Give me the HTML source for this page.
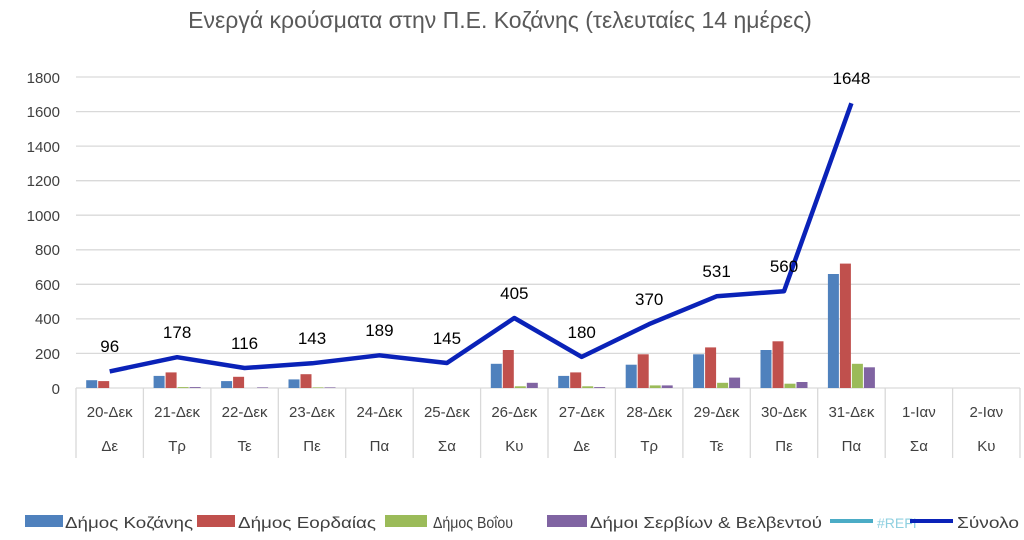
<!DOCTYPE html>
<html><head><meta charset="utf-8"><style>
html,body{margin:0;padding:0;background:#fff;width:1024px;height:540px;overflow:hidden}
svg text{font-family:"Liberation Sans","DejaVu Sans",sans-serif;fill:#404040}
</style></head><body>
<svg width="1024" height="540" xmlns="http://www.w3.org/2000/svg">
<text x="500" y="28" font-size="23" text-anchor="middle" style="fill:#595959">Ενεργά κρούσματα στην Π.Ε. Κοζάνης (τελευταίες 14 ημέρες)</text>
<g stroke="#d9d9d9" stroke-width="1.3">
<line x1="76" x2="1020" y1="77" y2="77"/><line x1="76" x2="1020" y1="111.6" y2="111.6"/>
<line x1="76" x2="1020" y1="146.1" y2="146.1"/><line x1="76" x2="1020" y1="180.7" y2="180.7"/>
<line x1="76" x2="1020" y1="215.2" y2="215.2"/><line x1="76" x2="1020" y1="249.8" y2="249.8"/>
<line x1="76" x2="1020" y1="284.3" y2="284.3"/><line x1="76" x2="1020" y1="318.9" y2="318.9"/>
<line x1="76" x2="1020" y1="353.4" y2="353.4"/><line x1="76" x2="1020" y1="388" y2="388"/>
<line x1="76" x2="76" y1="388" y2="458"/><line x1="143.4" x2="143.4" y1="388" y2="458"/>
<line x1="210.9" x2="210.9" y1="388" y2="458"/><line x1="278.3" x2="278.3" y1="388" y2="458"/>
<line x1="345.7" x2="345.7" y1="388" y2="458"/><line x1="413.2" x2="413.2" y1="388" y2="458"/>
<line x1="480.6" x2="480.6" y1="388" y2="458"/><line x1="548" x2="548" y1="388" y2="458"/>
<line x1="615.4" x2="615.4" y1="388" y2="458"/><line x1="682.9" x2="682.9" y1="388" y2="458"/>
<line x1="750.3" x2="750.3" y1="388" y2="458"/><line x1="817.7" x2="817.7" y1="388" y2="458"/>
<line x1="885.2" x2="885.2" y1="388" y2="458"/><line x1="952.6" x2="952.6" y1="388" y2="458"/>
<line x1="1020" x2="1020" y1="388" y2="458"/>
</g>
<g font-size="15" text-anchor="end">
<text x="60" y="83">1800</text><text x="60" y="117">1600</text><text x="60" y="152">1400</text>
<text x="60" y="186">1200</text><text x="60" y="221">1000</text><text x="60" y="255">800</text>
<text x="60" y="290">600</text><text x="60" y="324">400</text><text x="60" y="359">200</text>
<text x="60" y="394">0</text>
</g>
<g>
<rect x="86.2" y="380.2" width="11" height="7.8" fill="#4f81bd"/><rect x="98.2" y="381.1" width="11" height="6.9" fill="#c0504d"/>
<rect x="153.6" y="375.9" width="11" height="12.1" fill="#4f81bd"/><rect x="165.6" y="372.4" width="11" height="15.6" fill="#c0504d"/><rect x="177.6" y="387.1" width="11" height="0.9" fill="#9bbb59"/><rect x="189.6" y="387.1" width="11" height="0.9" fill="#8064a2"/>
<rect x="221.1" y="381.1" width="11" height="6.9" fill="#4f81bd"/><rect x="233.1" y="376.8" width="11" height="11.2" fill="#c0504d"/><rect x="257.1" y="387.4" width="11" height="0.6" fill="#8064a2"/>
<rect x="288.5" y="379.4" width="11" height="8.6" fill="#4f81bd"/><rect x="300.5" y="374.2" width="11" height="13.8" fill="#c0504d"/><rect x="312.5" y="387.4" width="11" height="0.6" fill="#9bbb59"/><rect x="324.5" y="387.4" width="11" height="0.6" fill="#8064a2"/>
<rect x="490.8" y="363.8" width="11" height="24.2" fill="#4f81bd"/><rect x="502.8" y="350" width="11" height="38" fill="#c0504d"/><rect x="514.8" y="386.3" width="11" height="1.7" fill="#9bbb59"/><rect x="526.8" y="382.8" width="11" height="5.2" fill="#8064a2"/>
<rect x="558.2" y="375.9" width="11" height="12.1" fill="#4f81bd"/><rect x="570.2" y="372.4" width="11" height="15.6" fill="#c0504d"/><rect x="582.2" y="386.3" width="11" height="1.7" fill="#9bbb59"/><rect x="594.2" y="387.1" width="11" height="0.9" fill="#8064a2"/>
<rect x="625.7" y="364.7" width="11" height="23.3" fill="#4f81bd"/><rect x="637.7" y="354.3" width="11" height="33.7" fill="#c0504d"/><rect x="649.7" y="385.4" width="11" height="2.6" fill="#9bbb59"/><rect x="661.7" y="385.4" width="11" height="2.6" fill="#8064a2"/>
<rect x="693.1" y="354.3" width="11" height="33.7" fill="#4f81bd"/><rect x="705.1" y="347.4" width="11" height="40.6" fill="#c0504d"/><rect x="717.1" y="382.8" width="11" height="5.2" fill="#9bbb59"/><rect x="729.1" y="377.6" width="11" height="10.4" fill="#8064a2"/>
<rect x="760.5" y="350" width="11" height="38" fill="#4f81bd"/><rect x="772.5" y="341.3" width="11" height="46.7" fill="#c0504d"/><rect x="784.5" y="383.7" width="11" height="4.3" fill="#9bbb59"/><rect x="796.5" y="382" width="11" height="6" fill="#8064a2"/>
<rect x="827.9" y="274" width="11" height="114" fill="#4f81bd"/><rect x="839.9" y="263.6" width="11" height="124.4" fill="#c0504d"/><rect x="851.9" y="363.8" width="11" height="24.2" fill="#9bbb59"/><rect x="863.9" y="367.3" width="11" height="20.7" fill="#8064a2"/>
</g>
<g font-size="15" text-anchor="middle">
<text x="109.7" y="417">20-Δεκ</text><text x="177.1" y="417">21-Δεκ</text><text x="244.6" y="417">22-Δεκ</text><text x="312" y="417">23-Δεκ</text><text x="379.4" y="417">24-Δεκ</text><text x="446.9" y="417">25-Δεκ</text><text x="514.3" y="417">26-Δεκ</text><text x="581.7" y="417">27-Δεκ</text><text x="649.2" y="417">28-Δεκ</text><text x="716.6" y="417">29-Δεκ</text><text x="784" y="417">30-Δεκ</text><text x="851.4" y="417">31-Δεκ</text><text x="918.9" y="417">1-Ιαν</text><text x="986.3" y="417">2-Ιαν</text>
<text x="109.7" y="451">Δε</text><text x="177.1" y="451">Τρ</text><text x="244.6" y="451">Τε</text><text x="312" y="451">Πε</text><text x="379.4" y="451">Πα</text><text x="446.9" y="451">Σα</text><text x="514.3" y="451">Κυ</text><text x="581.7" y="451">Δε</text><text x="649.2" y="451">Τρ</text><text x="716.6" y="451">Τε</text><text x="784" y="451">Πε</text><text x="851.4" y="451">Πα</text><text x="918.9" y="451">Σα</text><text x="986.3" y="451">Κυ</text>
</g>
<polyline fill="none" stroke="#0a22b8" stroke-width="4.5" stroke-linejoin="round" points="109.7,371.4 177.1,357.2 244.6,368 312,363.3 379.4,355.3 446.9,363 514.3,318 581.7,356.9 649.2,324.1 716.6,296.3 784,291.2 851.4,103.3"/>
<g font-size="17" text-anchor="middle" style="fill:#000">
<text x="109.7" y="352" style="fill:#000">96</text><text x="177.1" y="338" style="fill:#000">178</text><text x="244.6" y="349" style="fill:#000">116</text><text x="312" y="344" style="fill:#000">143</text><text x="379.4" y="336" style="fill:#000">189</text><text x="446.9" y="344" style="fill:#000">145</text><text x="514.3" y="299" style="fill:#000">405</text><text x="581.7" y="338" style="fill:#000">180</text><text x="649.2" y="305" style="fill:#000">370</text><text x="716.6" y="277" style="fill:#000">531</text><text x="784" y="272" style="fill:#000">560</text><text x="851.4" y="84" style="fill:#000">1648</text>
</g>
<g font-size="16">
<rect x="25" y="515" width="38" height="12" fill="#4f81bd"/><text x="65" y="528" textLength="128" lengthAdjust="spacingAndGlyphs">Δήμος Κοζάνης</text>
<rect x="197" y="515" width="38" height="12" fill="#c0504d"/><text x="238" y="528" textLength="138" lengthAdjust="spacingAndGlyphs">Δήμος Εορδαίας</text>
<rect x="385" y="515" width="42" height="12" fill="#9bbb59"/><text x="433" y="528" textLength="80" lengthAdjust="spacingAndGlyphs">Δήμος Βοΐου</text>
<rect x="547" y="515" width="40" height="12" fill="#8064a2"/><text x="590" y="528" textLength="232" lengthAdjust="spacingAndGlyphs">Δήμοι Σερβίων &amp; Βελβεντού</text>
<line x1="830" x2="873" y1="521" y2="521" stroke="#4bacc6" stroke-width="4"/><text x="877" y="528" font-size="14" style="fill:#8fd0e0">#REFI</text>
<line x1="910" x2="953" y1="521" y2="521" stroke="#0a22b8" stroke-width="4"/><text x="957" y="528" textLength="62" lengthAdjust="spacingAndGlyphs">Σύνολο</text>
</g>
</svg>
</body></html>
